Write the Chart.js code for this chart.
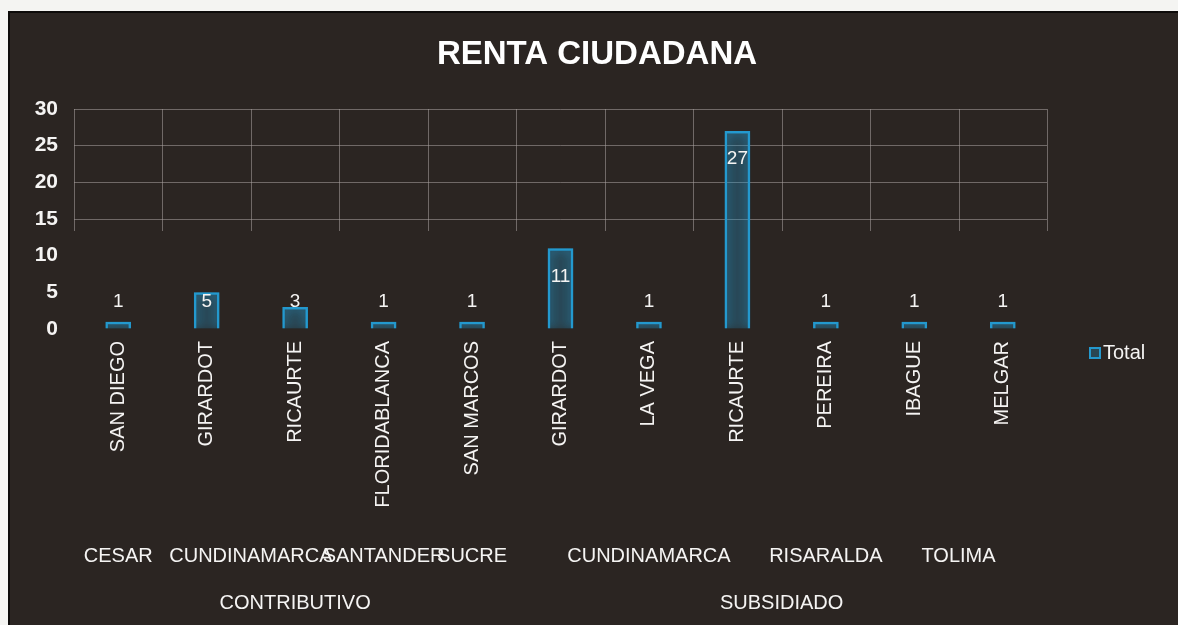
<!DOCTYPE html>
<html>
<head>
<meta charset="utf-8">
<title>Renta Ciudadana</title>
<script src="https://cdn.jsdelivr.net/npm/chart.js@4/dist/chart.umd.min.js"></script>
<style>
  html, body { margin: 0; padding: 0; background: #f4f4f2; }
  #panel {
    position: absolute; left: 8px; top: 11px;
    width: 1170px; height: 614px;
    background: #2b2522;
    box-shadow: inset 2px 2px 0 #0d0b0a;
  }
  canvas { display: block; }
</style>
</head>
<body>
<div id="panel"><canvas id="chart" width="1170" height="614"></canvas></div>
<script>
// datos
const title = 'RENTA CIUDADANA';
const categories = ['SAN DIEGO', 'GIRARDOT', 'RICAURTE', 'FLORIDABLANCA', 'SAN MARCOS',
                    'GIRARDOT', 'LA VEGA', 'RICAURTE', 'PEREIRA', 'IBAGUE', 'MELGAR'];
const departments = ['CESAR', 'CUNDINAMARCA', 'CUNDINAMARCA', 'SANTANDER', 'SUCRE',
                     'CUNDINAMARCA', 'CUNDINAMARCA', 'CUNDINAMARCA', 'RISARALDA', 'TOLIMA', 'TOLIMA'];
const regimes = ['CONTRIBUTIVO', 'CONTRIBUTIVO', 'CONTRIBUTIVO', 'CONTRIBUTIVO', 'CONTRIBUTIVO',
                 'SUBSIDIADO', 'SUBSIDIADO', 'SUBSIDIADO', 'SUBSIDIADO', 'SUBSIDIADO', 'SUBSIDIADO'];
const totals = [1, 5, 3, 1, 1, 11, 1, 27, 1, 1, 1];
const yTicks = [0, 5, 10, 15, 20, 25, 30];
const seriesName = 'Total';

const FONT = '"Liberation Sans", Arial, sans-serif';
const TEXT = '#f5f4f3';
const GRID = 'rgba(170, 162, 160, 0.55)';
const BAR = 'rgb(36, 152, 205)';

// agrupa etiquetas consecutivas iguales -> [{label, from, to}]
function spans(keys, labelOf) {
  const out = [];
  keys.forEach((k, i) => {
    const last = out[out.length - 1];
    if (last && last.key === k) last.to = i;
    else out.push({ key: k, label: labelOf(i), from: i, to: i });
  });
  return out;
}
const deptGroups = spans(departments.map((d, i) => regimes[i] + '|' + d), i => departments[i]);
const regimeGroups = spans(regimes, i => regimes[i]);

const excelLook = {
  id: 'excelLook',
  beforeDatasetsDraw(chart) {
    const { ctx, chartArea: a, scales: { y } } = chart;
    // líneas verticales (solo se ven en la parte alta de la foto)
    ctx.save();
    ctx.strokeStyle = GRID;
    ctx.lineWidth = 1;
    const w = (a.right - a.left) / categories.length;
    const bottom = y.getPixelForValue(15) + 12;
    for (let i = 0; i <= categories.length; i++) {
      const px = Math.round(a.left + i * w) + 0.5;
      ctx.beginPath();
      ctx.moveTo(px, a.top);
      ctx.lineTo(px, bottom);
      ctx.stroke();
    }
    ctx.restore();
    ctx.save();
    ctx.shadowColor = 'rgba(40, 180, 240, 0.9)';
    ctx.shadowBlur = 8;
  },
  afterDatasetsDraw(chart) {
    chart.ctx.restore();
    const { ctx } = chart;
    const meta = chart.getDatasetMeta(0);
    ctx.save();
    ctx.fillStyle = TEXT;
    ctx.font = '19px ' + FONT;
    ctx.textAlign = 'center';
    ctx.textBaseline = 'middle';
    meta.data.forEach((bar, i) => {
      const h = bar.base - bar.y;
      ctx.fillText(String(totals[i]), bar.x, bar.y + Math.min(28, h - 27));
    });
    ctx.restore();
  },
  afterDraw(chart) {
    const { ctx, chartArea: a } = chart;
    const w = (a.right - a.left) / categories.length;
    ctx.save();
    ctx.fillStyle = '#ffffff';
    ctx.textAlign = 'center';
    ctx.textBaseline = 'middle';
    ctx.font = 'bold 33px ' + FONT;
    ctx.fillText(title, chart.width / 2 + 4, 44);

    ctx.fillStyle = TEXT;
    ctx.font = '20px ' + FONT;
    deptGroups.forEach(g => {
      ctx.fillText(g.label, a.left + (g.from + g.to + 1) / 2 * w, 545);
    });
    regimeGroups.forEach(g => {
      ctx.fillText(g.label, a.left + (g.from + g.to + 1) / 2 * w, 592);
    });

    // leyenda
    const lx = a.right + 43, ly = 342;
    ctx.fillStyle = 'rgba(38, 150, 200, 0.3)';
    ctx.fillRect(lx, ly - 5, 10, 10);
    ctx.strokeStyle = BAR;
    ctx.lineWidth = 2;
    ctx.strokeRect(lx, ly - 5, 10, 10);
    ctx.fillStyle = TEXT;
    ctx.textAlign = 'left';
    ctx.fillText(seriesName, lx + 13, ly);
    ctx.restore();
  }
};

new Chart(document.getElementById('chart'), {
  type: 'bar',
  data: {
    labels: categories,
    datasets: [{
      label: seriesName,
      data: totals,
      backgroundColor: 'rgba(38, 140, 190, 0.18)',
      borderColor: BAR,
      borderWidth: 2.5,
      barPercentage: 0.29,
      categoryPercentage: 1
    }]
  },
  options: {
    responsive: false,
    animation: false,
    layout: { padding: { top: 98, right: 131, left: 0, bottom: 0 } },
    plugins: {
      legend: { display: false },
      title: { display: false },
      tooltip: { enabled: false }
    },
    scales: {
      x: {
        grid: { display: false },
        border: { display: false },
        ticks: {
          color: TEXT,
          font: { family: FONT, size: 20 },
          minRotation: 90,
          maxRotation: 90,
          autoSkip: false,
          padding: 4
        },
        afterFit(scale) { scale.height = 296; }
      },
      y: {
        min: 0,
        max: 30,
        afterBuildTicks(scale) { scale.ticks = yTicks.map(v => ({ value: v })); },
        grid: {
          drawTicks: false,
          color: c => (c.tick && c.tick.value >= 15 ? GRID : 'transparent')
        },
        border: { display: false },
        ticks: {
          color: TEXT,
          font: { family: FONT, size: 21, weight: 'bold' },
          padding: 16
        },
        afterFit(scale) { scale.width = 66; }
      }
    }
  },
  plugins: [excelLook]
});
</script>
</body>
</html>
